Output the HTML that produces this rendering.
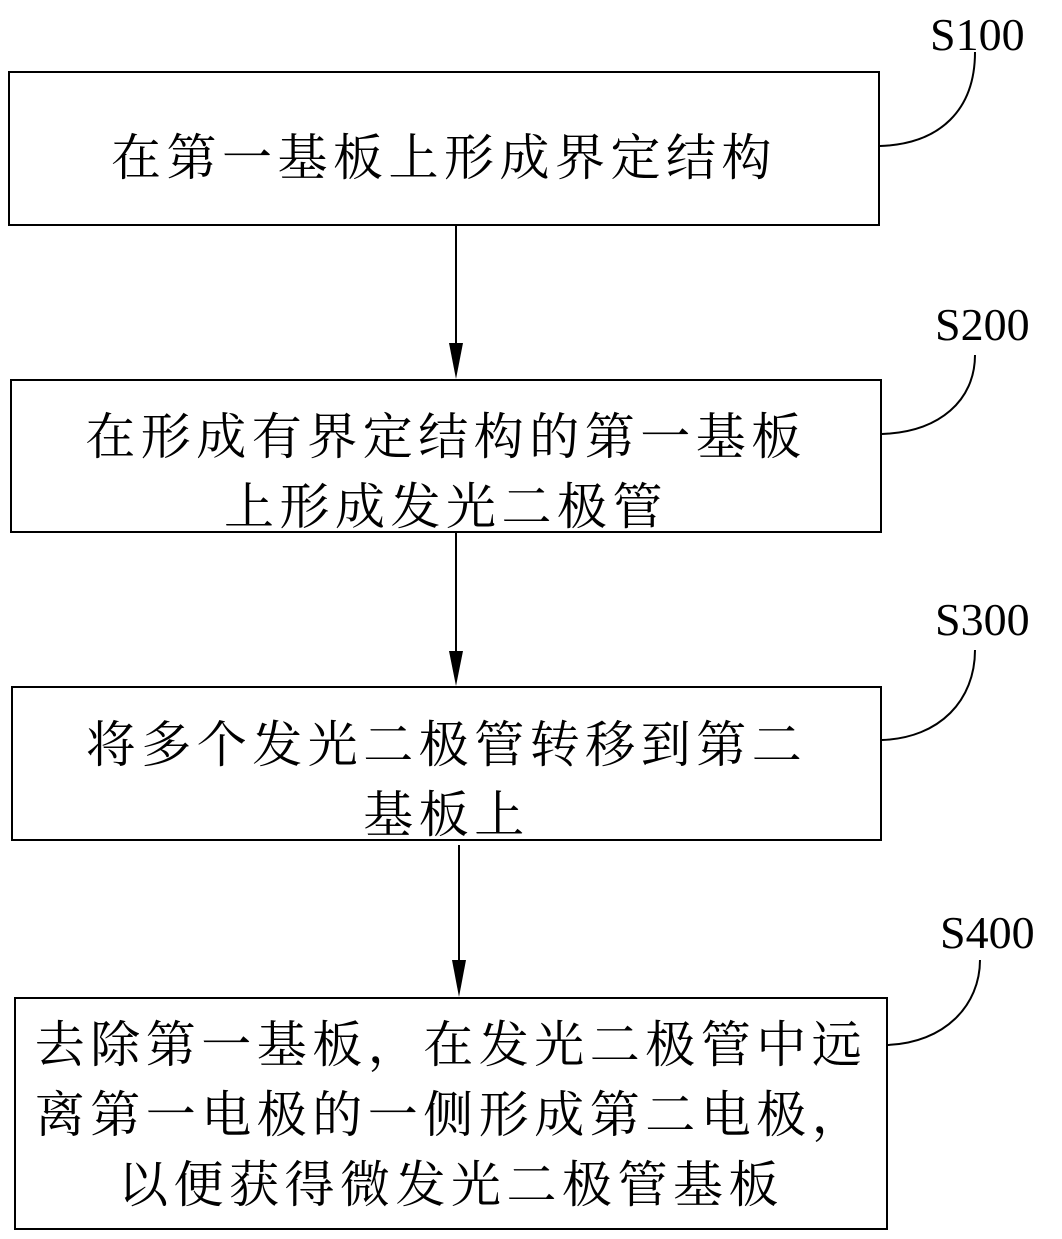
<!DOCTYPE html>
<html><head><meta charset="utf-8"><style>
body{margin:0;background:#fff;}
.wrap{position:relative;width:1062px;height:1239px;overflow:hidden;}
.t{position:absolute;font-family:"Liberation Serif","Noto Serif CJK SC",serif;font-size:50px;letter-spacing:5.5px;line-height:70px;color:#000;text-align:center;white-space:nowrap;}
.l{position:absolute;font-family:"Liberation Serif",serif;font-size:46px;color:#000;line-height:46px;}
</style></head><body><div class="wrap">
<svg width="1062" height="1239" style="position:absolute;left:0;top:0">
<g fill="none" stroke="#000" stroke-width="2">
<rect x="9" y="72" width="870" height="153"/>
<rect x="11" y="380" width="870" height="152"/>
<rect x="12" y="687" width="869" height="153"/>
<rect x="15" y="998" width="872" height="231"/>
<line x1="456" y1="226" x2="456" y2="350"/>
<line x1="456" y1="533" x2="456" y2="658"/>
<line x1="459" y1="845" x2="459" y2="966"/>
<path d="M880 146 C940 144 975 110 975 52"/>
<path d="M882 434 C940 432 975 400 975 355"/>
<path d="M882 740 C940 738 975 700 975 650"/>
<path d="M887 1045 C945 1043 980 1005 980 960"/>
</g>
<g fill="#000">
<polygon points="449,343 463,343 456,379"/>
<polygon points="449,651 463,651 456,686"/>
<polygon points="452,960 466,960 459,997"/>
</g>
</svg>
<div class="l" style="left:930px;top:12px">S100</div>
<div class="l" style="left:935px;top:302px">S200</div>
<div class="l" style="left:935px;top:597px">S300</div>
<div class="l" style="left:940px;top:910px">S400</div>
<div class="t" style="left:9px;width:870px;top:123px">在第一基板上形成界定结构</div>
<div class="t" style="left:11px;width:870px;top:402px">在形成有界定结构的第一基板<br>上形成发光二极管</div>
<div class="t" style="left:12px;width:869px;top:710px">将多个发光二极管转移到第二<br>基板上</div>
<div class="t" style="left:15px;width:872px;top:1010px">去除第一基板，在发光二极管中远<br>离第一电极的一侧形成第二电极，<br>以便获得微发光二极管基板</div>
</div></body></html>
